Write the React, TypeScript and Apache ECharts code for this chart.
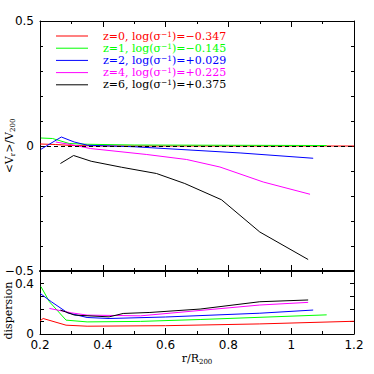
import React, { useEffect, useRef } from "react";
import * as echarts from "echarts";

// Legend labels
const labelsZ = ["z=0", "z=1", "z=2", "z=4", "z=6"];
const logSigmaInv = ["−0.347", "−0.145", "+0.029", "+0.225", "+0.375"];
const colors = ["#ff0000", "#00ff00", "#0000ff", "#ff00ff", "#000000"];

// Top panel: <V_r>/V_200 vs r/R_200
const meanZ0 = [[0.2, 0.008], [0.25, 0.006], [0.3, 0.002], [0.4, 0.0], [0.6, 0.0], [0.8, 0.0], [1.0, 0.0], [1.2, 0.0]];
const meanZ1 = [[0.203, 0.032], [0.24, 0.03], [0.293, 0.01], [0.35, 0.007], [0.5, 0.004], [0.8, 0.003], [1.113, 0.002]];
const meanZ2 = [[0.203, -0.013], [0.268, 0.036], [0.309, 0.016], [0.351, 0.003], [0.5, -0.003], [0.84, -0.028], [1.07, -0.049]];
const meanZ4 = [[0.25, 0.016], [0.31, 0.003], [0.36, -0.01], [0.54, -0.034], [0.667, -0.054], [0.773, -0.084], [0.911, -0.144], [1.06, -0.193]];
const meanZ6 = [[0.265, -0.07], [0.307, -0.038], [0.363, -0.061], [0.46, -0.085], [0.571, -0.11], [0.661, -0.15], [0.778, -0.215], [0.9, -0.344], [1.054, -0.454]];

// Bottom panel: dispersion vs r/R_200
const dispZ0 = [[0.2, 0.104], [0.21, 0.123], [0.283, 0.07], [0.35, 0.062], [0.6, 0.066], [0.9, 0.08], [1.2, 0.101]];
const dispZ1 = [[0.203, 0.376], [0.23, 0.256], [0.283, 0.11], [0.35, 0.096], [0.52, 0.1], [0.71, 0.115], [1.113, 0.152]];
const dispZ2 = [[0.2, 0.323], [0.236, 0.256], [0.288, 0.168], [0.35, 0.131], [0.42, 0.123], [0.6, 0.135], [0.9, 0.165], [1.07, 0.19]];
const dispZ4 = [[0.23, 0.203], [0.3, 0.168], [0.35, 0.15], [0.52, 0.144], [0.9, 0.23], [1.054, 0.251]];
const dispZ6 = [[0.265, 0.19], [0.31, 0.15], [0.42, 0.136], [0.465, 0.163], [0.55, 0.171], [0.71, 0.198], [0.9, 0.256], [1.054, 0.27]];

const meanSeries = [meanZ0, meanZ1, meanZ2, meanZ4, meanZ6];
const dispSeries = [dispZ0, dispZ1, dispZ2, dispZ4, dispZ6];

const xTicks = { min: 0.2, max: 1.2, interval: 0.2 };
const yTopTicks = { min: -0.5, max: 0.5, interval: 0.5 };
const yBotTicks = { min: 0, max: 0.5, interval: 0.1, labelled: [0, 0.4] };

const tickFont = "DejaVu Sans";
const nameFont = "DejaVu Serif";
const tickSize = 12;

function fmtNum(v: number) {
  const r = Math.round(v * 1000) / 1000;
  if (r === 0) return "0";
  return (r < 0 ? "−" : "") + String(Math.abs(r));
}

const black = { color: "#000", width: 1 };

function xAxis(gridIndex: number, position: string, showLabel: boolean, name?: string, lineWidth = 1) {
  return {
    type: "value",
    gridIndex,
    position,
    min: xTicks.min,
    max: xTicks.max,
    interval: xTicks.interval,
    name: name || "",
    nameLocation: "middle",
    nameGap: 17,
    nameMoveOverlap: false,
    nameTextStyle: {
      color: "#000",
      fontFamily: nameFont,
      fontSize: 11,
      rich: {
        a: { fontFamily: nameFont, fontSize: 11, color: "#000", lineHeight: 14 },
        s: { fontFamily: nameFont, fontSize: 7, color: "#000", verticalAlign: "bottom", lineHeight: 14 },
      },
    },
    axisLine: { show: true, onZero: false, lineStyle: { color: "#000", width: lineWidth } },
    axisTick: { show: true, inside: true, length: 6, lineStyle: black },
    minorTick: { show: true, splitNumber: 2, length: 3, lineStyle: black },
    splitLine: { show: false },
    minorSplitLine: { show: false },
    axisLabel: {
      show: showLabel,
      color: "#000",
      fontFamily: tickFont,
      fontSize: tickSize,
      margin: 5,
      formatter: (v: number) => fmtNum(v),
    },
  };
}

export default function App() {
  const ref = useRef<HTMLDivElement>(null);
  useEffect(() => {
    const chart = echarts.init(ref.current!, null, { renderer: "svg" });
    const grids = [
      { left: 40, top: 21, width: 314, height: 250, outerBoundsMode: "none", containLabel: false },
      { left: 40, top: 271, width: 314, height: 63, outerBoundsMode: "none", containLabel: false },
    ];
    const yTop = (position: string, showLabel: boolean) => ({
      type: "value",
      gridIndex: 0,
      position,
      min: yTopTicks.min,
      max: yTopTicks.max,
      interval: yTopTicks.interval,
      name: showLabel ? "{a|<V}{s|r}{a|>/V}{s|200}" : "",
      nameLocation: "middle",
      nameGap: 24,
      nameMoveOverlap: false,
      nameTextStyle: {
        color: "#000",
        fontFamily: nameFont,
        fontSize: 11,
        rich: {
          a: { fontFamily: nameFont, fontSize: 11, color: "#000", lineHeight: 14 },
          s: { fontFamily: nameFont, fontSize: 7, color: "#000", verticalAlign: "bottom", lineHeight: 14 },
        },
      },
      axisLine: { show: true, onZero: false, lineStyle: black },
      axisTick: { show: true, inside: true, length: 6, lineStyle: black },
      minorTick: { show: true, splitNumber: 5, length: 3, lineStyle: black },
      splitLine: { show: false },
      minorSplitLine: { show: false },
      axisLabel: {
        show: showLabel,
        color: "#000",
        fontFamily: tickFont,
        fontSize: tickSize,
        margin: 6,
        formatter: (v: number) => fmtNum(v),
      },
    });
    const yBot = (position: string, showLabel: boolean) => ({
      type: "value",
      gridIndex: 1,
      position,
      min: yBotTicks.min,
      max: yBotTicks.max,
      interval: yBotTicks.interval,
      name: showLabel ? "dispersion" : "",
      nameLocation: "middle",
      nameGap: 26,
      nameMoveOverlap: false,
      nameTextStyle: { color: "#000", fontFamily: nameFont, fontSize: 11, padding: [0, 16, 0, 0] },
      axisLine: { show: true, onZero: false, lineStyle: black },
      axisTick: { show: true, inside: true, length: 4, lineStyle: black },
      splitLine: { show: false },
      axisLabel: {
        show: showLabel,
        color: "#000",
        fontFamily: tickFont,
        fontSize: tickSize,
        margin: 6,
        formatter: (v: number) => {
          const r = Math.round(v * 1000) / 1000;
          return yBotTicks.labelled.indexOf(r) >= 0 ? fmtNum(r) : "";
        },
      },
    });

    const series: any[] = [];
    meanSeries.forEach((d, i) => {
      const s: any = {
        type: "line",
        name: labelsZ[i],
        xAxisIndex: 0,
        yAxisIndex: 0,
        data: d,
        symbol: "none",
        showSymbol: false,
        silent: true,
        lineStyle: { color: colors[i], width: 1 },
        itemStyle: { color: colors[i] },
      };
      if (i === 0) {
        s.markLine = {
          silent: true,
          symbol: "none",
          label: { show: false },
          lineStyle: { color: "#000", type: [4, 3], width: 1 },
          data: [{ yAxis: 0 }],
        };
      }
      series.push(s);
    });
    dispSeries.forEach((d, i) => {
      series.push({
        type: "line",
        name: labelsZ[i],
        xAxisIndex: 2,
        yAxisIndex: 2,
        data: d,
        symbol: "none",
        showSymbol: false,
        silent: true,
        lineStyle: { color: colors[i], width: 1 },
        itemStyle: { color: colors[i] },
      });
    });

    chart.setOption({
      animation: false,
      backgroundColor: "#fff",
      grid: grids,
      xAxis: [
        xAxis(0, "bottom", false),
        xAxis(0, "top", false),
        xAxis(1, "bottom", true, "{a|r/R}{s|200}"),
        xAxis(1, "top", false, "", 2),
      ],
      yAxis: [yTop("left", true), yTop("right", false), yBot("left", true), yBot("right", false)],
      legend: {
        orient: "vertical",
        left: 56,
        top: 30,
        padding: 0,
        itemGap: 0.7,
        itemWidth: 32,
        itemHeight: 1,
        icon: "rect",
        selectedMode: false,
        data: labelsZ.map((n, i) => ({ name: n, icon: "rect", itemStyle: { color: colors[i] }, textStyle: { color: colors[i] } })),
        formatter: (name: string) => {
          const i = labelsZ.indexOf(name);
          return `{g|}{t|${name}, log(σ}{sup|−1}{t|)=${logSigmaInv[i]}}`;
        },
        textStyle: {
          fontFamily: nameFont,
          fontSize: 11,
          rich: {
            g: { width: 10, lineHeight: 12 },
            t: { fontFamily: nameFont, fontSize: 11, lineHeight: 12 },
            sup: { fontFamily: nameFont, fontSize: 7.5, verticalAlign: "top", lineHeight: 12 },
          },
        },
      },
      series,
    });
    return () => chart.dispose();
  }, []);
  return (
    <div
      ref={ref}
      style={{ position: "fixed", left: 0, top: 0, width: 374, height: 374, background: "#fff" }}
    />
  );
}
